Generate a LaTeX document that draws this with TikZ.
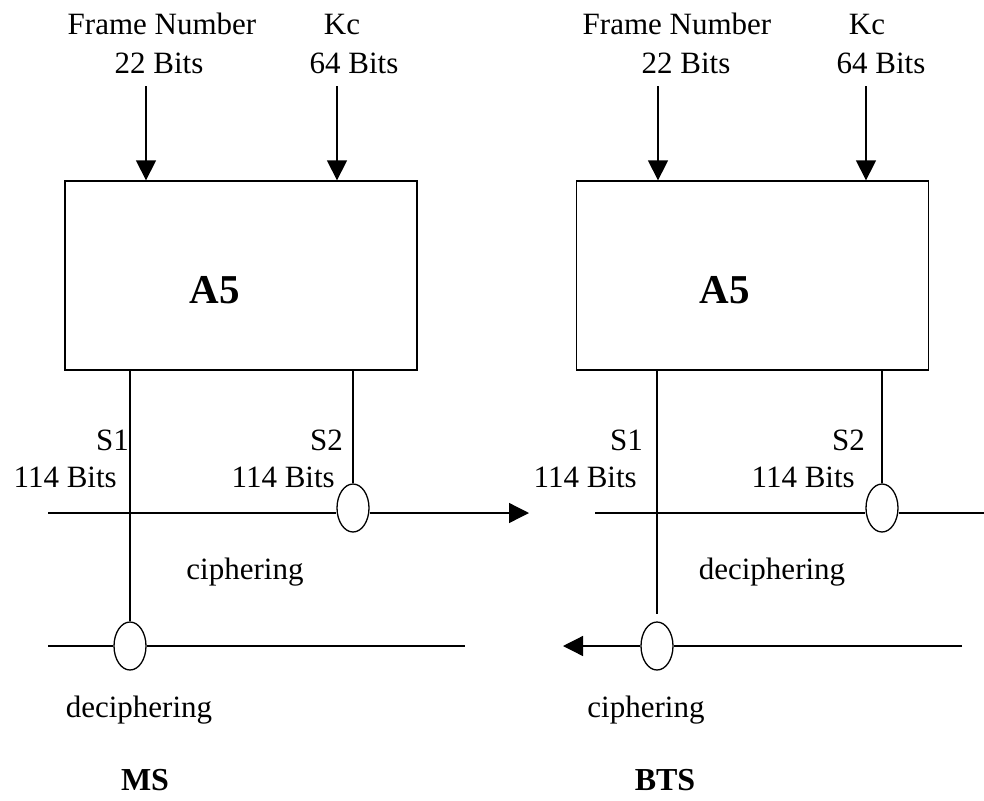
\documentclass[tikz,border=0pt]{standalone}
\usepackage{fontspec}
\setmainfont{Liberation Serif}
\usetikzlibrary{shapes, arrows.meta, positioning}
\tikzset{
  lbl/.style={font=\fontsize{31}{36}\selectfont, inner sep=0pt},
  sideLbl/.style={font=\fontsize{32}{38}\selectfont\bfseries, inner sep=0pt},
  a5box/.style={draw, line width=1.3pt, minimum width=352pt,
                minimum height=189pt, inner sep=0pt},
  a5txt/.style={font=\fontsize{41}{48}\selectfont\bfseries, inner sep=0pt},
  xorN/.style={ellipse, draw, line width=1.3pt, fill=white,
               minimum width=32pt, minimum height=48pt, inner sep=0pt},
  wire/.style={line width=1.3pt},
  arr/.style={wire, -{Triangle[length=20pt, width=20pt]}},
}
\begin{document}
\begin{tikzpicture}[x=1pt, y=-1pt]
    \useasboundingbox (0,0) rectangle (984,800);

    %% A5 boxes
    \node[a5box] (boxL) at (241,275.5) {};
    \node[a5box] (boxR) at (752.5,275.5) {};
    \node[a5txt, anchor=base] (a5L) at (215,303) {A5};
    \node[a5txt, anchor=base] (a5R) at (725,303) {A5};

    %% inputs
    \node[lbl, anchor=base] (fnL)  at (162,35) {Frame Number};
    \node[lbl, anchor=base] (fnbL) at (159,73) {22 Bits};
    \node[lbl, anchor=base] (kcL)  at (342,35) {Kc};
    \node[lbl, anchor=base] (kcbL) at (354,73) {64 Bits};
    \node[lbl, anchor=base] (fnR)  at (677,35) {Frame Number};
    \node[lbl, anchor=base] (fnbR) at (686,73) {22 Bits};
    \node[lbl, anchor=base] (kcR)  at (867,35) {Kc};
    \node[lbl, anchor=base] (kcbR) at (881,73) {64 Bits};

    \coordinate (inFnL) at (146,86);
    \coordinate (inKcL) at (337,86);
    \coordinate (inFnR) at (658,86);
    \coordinate (inKcR) at (866,86);
    \draw[arr] (inFnL) -- (inFnL |- boxL.north);
    \draw[arr] (inKcL) -- (inKcL |- boxL.north);
    \draw[arr] (inFnR) -- (inFnR |- boxR.north);
    \draw[arr] (inKcR) -- (inKcR |- boxR.north);

    %% xor points
    \node[xorN] (cipL) at (353,508) {};
    \node[xorN] (decL) at (130,646) {};
    \node[xorN] (decR) at (882,508) {};
    \node[xorN] (cipR) at (657,646) {};

    %% key streams
    \draw[wire] (decL.north |- boxL.south) -- (decL.north);
    \draw[wire] (cipL.north |- boxL.south) -- (cipL.north);
    \draw[wire] (cipR.north |- boxR.south) -- ++(0,243);
    \draw[wire] (decR.north |- boxR.south) -- (decR.north);

    \node[lbl, anchor=base east] (s1L)  at (129,450) {S1};
    \node[lbl, anchor=base east] (s1bL) at (117,487) {114 Bits};
    \node[lbl, anchor=base east] (s2L)  at (343,450) {S2};
    \node[lbl, anchor=base east] (s2bL) at (335,487) {114 Bits};
    \node[lbl, anchor=base east] (s1R)  at (643,450) {S1};
    \node[lbl, anchor=base east] (s1bR) at (637,487) {114 Bits};
    \node[lbl, anchor=base east] (s2R)  at (865,450) {S2};
    \node[lbl, anchor=base east] (s2bR) at (855,487) {114 Bits};

    %% data lines
    \coordinate (upInL)  at (48,513);
    \coordinate (upOutL) at (529,513);
    \coordinate (loInL)  at (48,646);
    \coordinate (loOutL) at (465,646);
    \coordinate (upInR)  at (595,513);
    \coordinate (upOutR) at (984,513);
    \coordinate (loInR)  at (962,646);
    \coordinate (loOutR) at (563,646);

    \draw[wire] (upInL) -- (cipL.west |- upInL);
    \draw[arr]  (cipL.east |- upOutL) -- (upOutL);
    \draw[wire] (loInL) -- (decL.west);
    \draw[wire] (decL.east) -- (loOutL);
    \draw[wire] (upInR) -- (decR.west |- upInR);
    \draw[wire] (decR.east |- upOutR) -- (upOutR);
    \draw[wire] (loInR) -- (cipR.east);
    \draw[arr]  (cipR.west) -- (loOutR);

    %% operation labels
    \node[lbl] (opCL) at (245,572) {ciphering};
    \node[lbl] (opDR) at (772,572) {deciphering};
    \node[lbl] (opDL) at (139,710) {deciphering};
    \node[lbl] (opCR) at (646,710) {ciphering};

    %% sides
    \node[sideLbl] (ms)  at (145,780) {MS};
    \node[sideLbl] (bts) at (665,780) {BTS};
\end{tikzpicture}
\end{document}
